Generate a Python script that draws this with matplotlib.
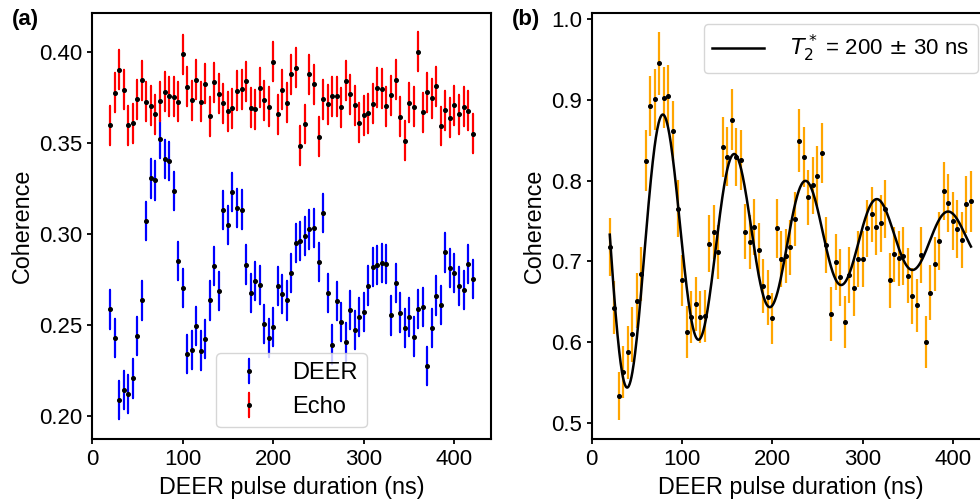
import numpy as np
import matplotlib
matplotlib.use("Agg")
import matplotlib.pyplot as plt

plt.rcParams['font.family'] = ['Liberation Sans', 'DejaVu Sans']
plt.rcParams['font.size'] = 16
plt.rcParams['axes.linewidth'] = 1.5
plt.rcParams['xtick.major.width'] = 1.3
plt.rcParams['ytick.major.width'] = 1.3

# DEER pulse durations (ns), 5 ns steps
duration = np.arange(20, 425, 5)

# Panel (a): echo and DEER coherence
echo = [0.3596, 0.3774, 0.3902, 0.3792, 0.3597, 0.3607, 0.3738, 0.3842, 0.3725, 0.3703,
        0.3656, 0.3727, 0.3780, 0.3756, 0.3752, 0.3725, 0.3985, 0.3807, 0.3732, 0.3845,
        0.3725, 0.3825, 0.3645, 0.3831, 0.3769, 0.3716, 0.3674, 0.3690, 0.3785, 0.3794,
        0.3838, 0.3692, 0.3685, 0.3803, 0.3732, 0.3698, 0.3944, 0.3656, 0.3791, 0.3720,
        0.3876, 0.3913, 0.3483, 0.3603, 0.3876, 0.3820, 0.3534, 0.3738, 0.3712, 0.3756,
        0.3756, 0.3694, 0.3840, 0.3767, 0.3707, 0.3611, 0.3650, 0.3661, 0.3714, 0.3803,
        0.3796, 0.3701, 0.3762, 0.3847, 0.3643, 0.3512, 0.3720, 0.3698, 0.4000, 0.3668,
        0.3776, 0.3743, 0.3811, 0.3592, 0.3678, 0.3638, 0.3707, 0.3657, 0.3699, 0.3676,
        0.3550]
echo_err = 0.0107

deer = [0.2585, 0.2430, 0.2089, 0.2144, 0.2122, 0.2206, 0.2441, 0.2634, 0.3071, 0.3304,
        0.3293, 0.3519, 0.3411, 0.3399, 0.3235, 0.2852, 0.2701, 0.2339, 0.2364, 0.2493,
        0.2359, 0.2424, 0.2634, 0.2823, 0.2685, 0.3131, 0.3047, 0.3230, 0.3140, 0.3133,
        0.2831, 0.2676, 0.2740, 0.2718, 0.2503, 0.2430, 0.2489, 0.2712, 0.2668, 0.2634,
        0.2785, 0.2949, 0.2960, 0.2987, 0.3024, 0.3033, 0.2847, 0.3116, 0.2676, 0.2392,
        0.2630, 0.2517, 0.2406, 0.2583, 0.2474, 0.2543, 0.2572, 0.2716, 0.2818, 0.2827,
        0.2840, 0.2834, 0.2552, 0.2731, 0.2568, 0.2484, 0.2545, 0.2436, 0.2589, 0.2599,
        0.2273, 0.2481, 0.2661, 0.2608, 0.2898, 0.2814, 0.2785, 0.2714, 0.2692, 0.2834,
        0.2754]
deer_err = 0.0105

# Panel (b): normalised DEER coherence
coh = [0.7177, 0.6426, 0.5337, 0.5634, 0.5877, 0.6100, 0.6512, 0.6843, 0.8245, 0.8922,
       0.9004, 0.9449, 0.9025, 0.9050, 0.8616, 0.7651, 0.6764, 0.6129, 0.6314, 0.6471,
       0.6314, 0.6323, 0.7218, 0.7362, 0.7115, 0.8418, 0.8295, 0.8752, 0.8295, 0.8254,
       0.7366, 0.7239, 0.7424, 0.7135, 0.6698, 0.6554, 0.6294, 0.7408, 0.7028, 0.7065,
       0.7172, 0.7523, 0.8493, 0.8291, 0.7791, 0.7940, 0.8055, 0.8340, 0.7202, 0.6351,
       0.6991, 0.6801, 0.6249, 0.6830, 0.6665, 0.7032, 0.7032, 0.7408, 0.7581, 0.7420,
       0.7469, 0.7647, 0.6768, 0.7086, 0.7036, 0.7065, 0.6822, 0.6574, 0.6455, 0.7078,
       0.6005, 0.6615, 0.6966, 0.7251, 0.7874, 0.7725, 0.7502, 0.7403, 0.7267, 0.7704,
       0.7741]
coh_err = [0.036, 0.033, 0.030, 0.032, 0.033, 0.034, 0.034, 0.033, 0.0375, 0.0375,
           0.0375, 0.039, 0.0375, 0.038, 0.037, 0.035, 0.032, 0.032, 0.0325, 0.033,
           0.0325, 0.0325, 0.035, 0.0335, 0.0335, 0.037, 0.0365, 0.038, 0.036, 0.0365,
           0.034, 0.0335, 0.035, 0.034, 0.0335, 0.0335, 0.032, 0.036, 0.0345, 0.0335,
           0.0345, 0.033, 0.039, 0.037, 0.0345, 0.035, 0.0375, 0.037, 0.035, 0.033,
           0.035, 0.0355, 0.032, 0.0345, 0.0345, 0.035, 0.035, 0.0355, 0.0345, 0.0345,
           0.0355, 0.0355, 0.034, 0.034, 0.0335, 0.036, 0.034, 0.0345, 0.033, 0.0345,
           0.032, 0.0335, 0.0335, 0.0355, 0.036, 0.036, 0.0355, 0.036, 0.0345, 0.0355,
           0.0375]

# damped cosine fit parameters
fit_offset = 0.729
fit_amp = 0.2245
fit_t2 = 205.0
fit_period = 79.0
fit_tpeak = 79.5

fig = plt.figure(figsize=(9.8, 5.04), dpi=100)
ax1 = fig.add_axes([0.0939, 0.1284, 0.4068, 0.8464])
ax2 = fig.add_axes([0.6038, 0.1284, 0.4054, 0.8455])

ax1.errorbar(duration, deer, yerr=deer_err, fmt='o', color='k', ms=2.6,
             ecolor='blue', elinewidth=1.6, capsize=0.8, capthick=1.6, label='DEER')
ax1.errorbar(duration, echo, yerr=echo_err, fmt='o', color='k', ms=2.6,
             ecolor='red', elinewidth=1.6, capsize=0.8, capthick=1.6, label='Echo')
ax1.set_xlim(0, 440)
ax1.set_ylim(0.1872, 0.4214)
ax1.set_yticks([0.20, 0.25, 0.30, 0.35, 0.40])
ax1.set_xticks([0, 100, 200, 300, 400])
ax1.set_xlabel('DEER pulse duration (ns)', fontsize=16.8)
ax1.set_ylabel('Coherence', fontsize=16.8)
ax1.legend(loc='lower center', fontsize=17)

t_fit = np.linspace(20, 420, 800)
fit = fit_offset + fit_amp * np.exp(-t_fit / fit_t2) * np.cos(2 * np.pi * (t_fit - fit_tpeak) / fit_period)

ax2.errorbar(duration, coh, yerr=coh_err, fmt='o', color='k', ms=2.6,
             ecolor='orange', elinewidth=1.6, zorder=2)
ax2.plot(t_fit, fit, color='k', lw=1.8, zorder=3,
         label=r'$T_2^*$ = 200 $\pm$ 30 ns')
ax2.set_xlim(0, 440)
ax2.set_ylim(0.480, 1.007)
ax2.set_xticks([0, 100, 200, 300, 400])
ax2.set_xlabel('DEER pulse duration (ns)', fontsize=16.8)
ax2.set_ylabel('Coherence', fontsize=16.8)
ax2.legend(loc='upper right', fontsize=16, handlelength=2.3, handletextpad=1.2)

fig.text(0.012, 0.962, '(a)', fontsize=16, fontweight='bold', va='center')
fig.text(0.522, 0.962, '(b)', fontsize=16, fontweight='bold', va='center')

fig.savefig('out.png', dpi=100)
